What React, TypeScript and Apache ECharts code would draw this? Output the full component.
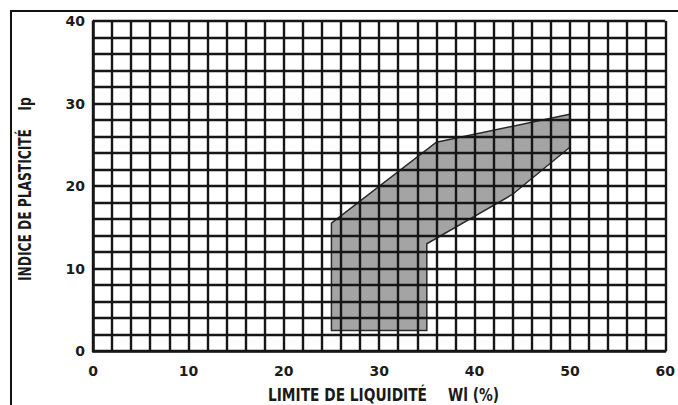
import { useEffect, useRef } from "react";
import * as echarts from "echarts";

// Axis extents and tick spacing
const xRange: number[] = [0, 60];
const yRange: number[] = [0, 40];
const majorStep = 10;
const minorDivisions = 5;

// Shaded zone (Wl %, Ip) vertices
const plasticityZone: number[][] = [
  [25, 2.5],
  [25, 15.5],
  [36, 25.3],
  [50, 28.7],
  [50, 24.7],
  [44, 19],
  [35, 13],
  [35, 2.5],
];

// Axis titles
const xTitleMain = "LIMITE DE LIQUIDITÉ";
const xTitleUnit = "Wl (%)";
const yTitleMain = "INDICE DE PLASTICITÉ";
const yTitleUnit = "Ip";

const gridColor = "#161616";
const titleFont = "'DejaVu Sans Condensed', 'Liberation Sans Narrow', sans-serif";
const tickFont = "'DejaVu Sans', sans-serif";

export default function App() {
  const ref = useRef<HTMLDivElement>(null);

  useEffect(() => {
    if (!ref.current) return;
    const chart = echarts.init(ref.current, undefined, { renderer: "svg" });

    const axisCommon = {
      type: "value" as const,
      interval: majorStep,
      axisLine: { show: true, lineStyle: { color: gridColor, width: 2.5 } },
      axisTick: { show: false },
      splitLine: { show: true, lineStyle: { color: gridColor, width: 2.4 } },
      minorTick: { show: false, splitNumber: minorDivisions },
      minorSplitLine: { show: true, lineStyle: { color: gridColor, width: 2.4 } },
      axisLabel: {
        color: "#1c1c1c",
        fontSize: 14,
        fontWeight: "bold" as const,
        fontFamily: tickFont,
      },
    };

    const titleStyle = (text: string, align: string) => ({
      text,
      font: `bold 17px ${titleFont}`,
      fill: "#1a1a1a",
      align,
      verticalAlign: "middle",
    });

    chart.setOption({
      animation: false,
      backgroundColor: "#ffffff",
      grid: { left: 93, right: 5, top: 21, bottom: 54, containLabel: false },
      xAxis: {
        ...axisCommon,
        min: xRange[0],
        max: xRange[1],
        axisLabel: { ...axisCommon.axisLabel, margin: 13 },
      },
      yAxis: {
        ...axisCommon,
        min: yRange[0],
        max: yRange[1],
        axisLabel: { ...axisCommon.axisLabel, margin: 8 },
      },
      series: [
        {
          type: "custom",
          z: -1,
          data: plasticityZone,
          renderItem: (params: any, api: any) => {
            if (params.dataIndex !== 0) return null;
            const pts = plasticityZone.map((p) => api.coord(p));
            return {
              type: "polygon",
              shape: { points: pts },
              style: { fill: "#a4a4a4", stroke: "#2a2a2a", lineWidth: 1.5 },
            };
          },
        },
      ],
      graphic: [
        {
          type: "rect",
          shape: { x: 11, y: 11, width: 720, height: 440 },
          style: { fill: "none", stroke: "#111111", lineWidth: 2 },
          silent: true,
        },
        {
          type: "text",
          x: 268,
          y: 395,
          scaleX: 0.9,
          style: titleStyle(xTitleMain, "left"),
        },
        {
          type: "text",
          x: 448,
          y: 395,
          scaleX: 0.9,
          style: titleStyle(xTitleUnit, "left"),
        },
        {
          type: "text",
          x: 25,
          y: 205,
          rotation: Math.PI / 2,
          scaleX: 0.8,
          style: titleStyle(yTitleMain, "center"),
        },
        {
          type: "text",
          x: 25,
          y: 104,
          rotation: Math.PI / 2,
          scaleX: 0.8,
          style: titleStyle(yTitleUnit, "center"),
        },
      ],
    });

    return () => chart.dispose();
  }, []);

  return (
    <div
      ref={ref}
      style={{
        position: "fixed",
        top: 0,
        left: 0,
        width: 678,
        height: 405,
        background: "#ffffff",
      }}
    />
  );
}
